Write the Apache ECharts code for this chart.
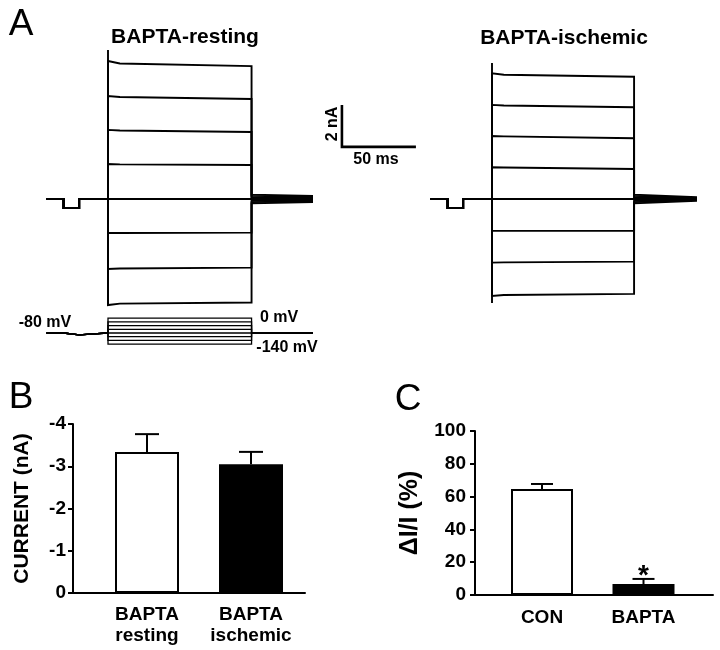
<!DOCTYPE html>
<html><head><meta charset="utf-8">
<script src="https://cdn.jsdelivr.net/npm/echarts@6/dist/echarts.min.js"></script>
<style>html,body{margin:0;padding:0;background:#fff}#c{width:720px;height:650px}</style>
</head><body><div id="c"></div>
<script>
// ================= DATA =================
// Panel A: whole-cell currents (nA) vs time (ms), step onset at t = 0
const traceStartMs = -41.5;
const traceEndMs = 138.5;
const prepulseMs = [-30, -19.5];
const prepulseNA = -0.43;
const earlyMs = 8;
const stepEndLeftMs = 97;
const stepEndRightMs = 96;

const leftStartNA = [6.57, 4.90, 3.29, 1.67, 0, -1.62, -3.33, -5.05];
const leftEarlyNA = [6.45, 4.86, 3.26, 1.65, 0, -1.62, -3.31, -4.98];
const leftEndNA   = [6.33, 4.76, 3.19, 1.62, 0, -1.60, -3.27, -4.93];
const leftTransientNA = [7.1, -5.1];
const leftTailStartNA = [0.21, 0.15, 0.09, 0.03, -0.03, -0.09, -0.15, -0.21];
const leftTailEndNA   = [0.14, 0.10, 0.06, 0.02, -0.02, -0.06, -0.10, -0.14];

const rightStartNA = [5.99, 4.48, 3.00, 1.51, 0, -1.52, -3.03, -4.62];
const rightEarlyNA = [5.92, 4.45, 2.98, 1.50, 0, -1.52, -3.02, -4.57];
const rightEndNA   = [5.82, 4.37, 2.89, 1.43, 0, -1.52, -2.98, -4.52];
const rightTransientNA = [6.48, -4.95];
const rightTailStartNA = [0.21, 0.15, 0.09, 0.03, -0.03, -0.09, -0.15, -0.21];
const rightTailEndNA   = [0.08, 0.055, 0.035, 0.01, -0.01, -0.035, -0.055, -0.08];

// voltage protocol (mV)
const holdingMV = -80;
const prepulseMV = -90;
const stepMV = [0, -20, -40, -60, -80, -100, -120, -140];

// scale bar
const scaleBarMs = 50;
const scaleBarNA = 2;
const scaleBarOrigin = [-101.4, 2.48];

// Panel B
const bCategories = ['BAPTA\nresting', 'BAPTA\nischemic'];
const bMean = [-3.34, -3.05];
const bErrTop = [-3.76, -3.34];
const bFill = ['#ffffff', '#000000'];

// Panel C
const cCategories = ['CON', 'BAPTA'];
const cMean = [64.6, 6.7];
const cErrTop = [67.7, 9.8];
const cFill = ['#ffffff', '#000000'];
const cSig = ['', '*'];

// ================= LAYOUT =================
const FONT = '"Liberation Sans", Arial, Helvetica, sans-serif';
const PX_MS = 1.48, PX_NA = 21, PX_MV = 26 / 140;
const leftStepX = 108, rightStepX = 492, baseY = 199, holdY = 333;
const tMinL = -45, tMaxL = 140, tMinR = -110, tMaxR = 145;
const iMin = -6, iMax = 8, vMin = -150, vMax = 10;

const chart = echarts.init(document.getElementById('c'), null, {renderer: 'canvas'});

function hiddenAxis(idx, min, max) {
  return {gridIndex: idx, type: 'value', min: min, max: max, show: false};
}

function sweep(start, early, end, tS, tE, stepEnd) {
  return [[traceStartMs, 0], [prepulseMs[0], 0], [prepulseMs[0], prepulseNA],
          [prepulseMs[1], prepulseNA], [prepulseMs[1], 0], [0, 0], [0, start],
          [earlyMs, early], [stepEnd, end], [stepEnd, tS], [traceEndMs, tE]];
}
function protocol(v) {
  return [[traceStartMs, holdingMV], [prepulseMs[0], holdingMV], [prepulseMs[0], prepulseMV],
          [prepulseMs[1], prepulseMV], [prepulseMs[1], holdingMV], [0, holdingMV], [0, v],
          [stepEndLeftMs, v], [stepEndLeftMs, holdingMV], [traceEndMs, holdingMV]];
}
function lineSeries(data, xi, lw) {
  return {type: 'line', xAxisIndex: xi, yAxisIndex: xi, data: data, symbol: 'none',
          silent: true, lineStyle: {color: '#000', width: lw, cap: 'butt', join: 'miter'}, z: 3};
}

const series = [];
for (let i = 0; i < leftStartNA.length; i++) {
  series.push(lineSeries(sweep(leftStartNA[i], leftEarlyNA[i], leftEndNA[i], leftTailStartNA[i], leftTailEndNA[i], stepEndLeftMs), 0, 1.9));
}
series.push(lineSeries([[0, leftTransientNA[1]], [0, leftTransientNA[0]]], 0, 1.9));
for (let i = 0; i < rightStartNA.length; i++) {
  series.push(lineSeries(sweep(rightStartNA[i], rightEarlyNA[i], rightEndNA[i], rightTailStartNA[i], rightTailEndNA[i], stepEndRightMs), 1, 1.9));
}
series.push(lineSeries([[0, rightTransientNA[1]], [0, rightTransientNA[0]]], 1, 1.9));
series.push(lineSeries([[scaleBarOrigin[0], scaleBarOrigin[1] + scaleBarNA], scaleBarOrigin,
                        [scaleBarOrigin[0] + scaleBarMs, scaleBarOrigin[1]]], 1, 2.6));
for (let i = 0; i < stepMV.length; i++) {
  series.push(lineSeries(protocol(stepMV[i]), 2, 1.3));
}

function errRender(capW, sig) {
  return function (params, api) {
    const x = api.value(0), m = api.value(1), t = api.value(2);
    const p0 = api.coord([x, m]), p1 = api.coord([x, t]);
    const children = [
      {type: 'line', shape: {x1: p0[0], y1: p0[1], x2: p1[0], y2: p1[1]}, style: {stroke: '#000', lineWidth: 2}},
      {type: 'line', shape: {x1: p1[0] - capW / 2, y1: p1[1], x2: p1[0] + capW / 2, y2: p1[1]}, style: {stroke: '#000', lineWidth: 2}}
    ];
    if (sig && sig[params.dataIndex]) {
      children.push({type: 'text', style: {text: sig[params.dataIndex], x: p1[0], y: p1[1] - 3,
        align: 'center', verticalAlign: 'middle', textAlign: 'center', textVerticalAlign: 'middle',
        font: 'bold 28px ' + FONT, fill: '#000'}});
    }
    return {type: 'group', children: children};
  };
}

series.push({type: 'bar', xAxisIndex: 3, yAxisIndex: 3, barWidth: 64, silent: true, z: 2,
  data: bMean.map((v, i) => ({value: [i + 1, v], itemStyle: {color: bFill[i]}})),
  itemStyle: {borderColor: '#000', borderWidth: 2}});
series.push({type: 'custom', xAxisIndex: 3, yAxisIndex: 3, z: 4, silent: true,
  data: bMean.map((v, i) => [i + 1, v, bErrTop[i]]), renderItem: errRender(24)});
series.push({type: 'bar', xAxisIndex: 4, yAxisIndex: 4, barWidth: 62, silent: true, z: 2,
  data: cMean.map((v, i) => ({value: [i + 1, v], itemStyle: {color: cFill[i]}})),
  itemStyle: {borderColor: '#000', borderWidth: 2}});
series.push({type: 'custom', xAxisIndex: 4, yAxisIndex: 4, z: 4, silent: true,
  data: cMean.map((v, i) => [i + 1, v, cErrTop[i]]), renderItem: errRender(22, cSig)});

const axisTxt = {color: '#000', fontFamily: FONT, fontWeight: 'bold', fontSize: 19};
function catXAxis(idx, min, max, cats, margin) {
  return {gridIndex: idx, type: 'value', min: min, max: max,
    axisLine: {onZero: false, lineStyle: {color: '#000', width: 2}},
    axisTick: {show: false}, splitLine: {show: false},
    axisLabel: Object.assign({customValues: cats.map((c, i) => i + 1), margin: margin, lineHeight: 21,
      formatter: v => cats[Math.round(v) - 1] || ''}, axisTxt)};
}
function valYAxis(idx, min, max, interval, inverse, name, nameGap, nameSize, margin) {
  return {gridIndex: idx, type: 'value', min: min, max: max, interval: interval, inverse: inverse,
    axisLine: {show: true, onZero: false, lineStyle: {color: '#000', width: 2}},
    axisTick: {show: true, length: 5, lineStyle: {color: '#000', width: 2}},
    splitLine: {show: false},
    axisLabel: Object.assign({margin: margin}, axisTxt),
    name: name, nameLocation: 'middle', nameGap: nameGap, nameRotate: 90,
    nameTextStyle: {color: '#000', fontFamily: FONT, fontWeight: 'bold', fontSize: nameSize}};
}

const option = {
  animation: false,
  backgroundColor: '#fff',
  grid: [
    {left: leftStepX + tMinL * PX_MS, width: (tMaxL - tMinL) * PX_MS, top: baseY - iMax * PX_NA, height: (iMax - iMin) * PX_NA, outerBoundsMode: 'none'},
    {left: rightStepX + tMinR * PX_MS, width: (tMaxR - tMinR) * PX_MS, top: baseY - iMax * PX_NA, height: (iMax - iMin) * PX_NA, outerBoundsMode: 'none'},
    {left: leftStepX + tMinL * PX_MS, width: (tMaxL - tMinL) * PX_MS, top: holdY - (vMax - holdingMV) * PX_MV, height: (vMax - vMin) * PX_MV, outerBoundsMode: 'none'},
    {left: 73, top: 424, width: 232, height: 169, outerBoundsMode: 'none'},
    {left: 475, top: 431, width: 238, height: 164, outerBoundsMode: 'none'}
  ],
  xAxis: [
    hiddenAxis(0, tMinL, tMaxL), hiddenAxis(1, tMinR, tMaxR), hiddenAxis(2, tMinL, tMaxL),
    catXAxis(3, 1 - 74 / 104, 2 + 54 / 104, bCategories, 11),
    catXAxis(4, 1 - 67 / 101.5, 2 + 69.5 / 101.5, cCategories, 12)
  ],
  yAxis: [
    hiddenAxis(0, iMin, iMax), hiddenAxis(1, iMin, iMax), hiddenAxis(2, vMin, vMax),
    valYAxis(3, -4, 0, 1, true, 'CURRENT (nA)', 40, 21, 7),
    valYAxis(4, 0, 100, 20, false, '\u0394I/I (%)', 52, 25, 9)
  ],
  graphic: [
    txt('A', 21, 25, 37, 'normal'),
    txt('B', 21, 398, 37, 'normal'),
    txt('C', 408, 400, 37, 'normal'),
    txt('BAPTA-resting', 185, 37, 21, 'bold'),
    txt('BAPTA-ischemic', 564, 38, 21, 'bold'),
    txt('50 ms', 376, 160, 16, 'bold'),
    txt('2 nA', 333, 124, 16, 'bold', Math.PI / 2),
    txt('-80 mV', 45, 323, 16, 'bold'),
    txt('0 mV', 279, 318, 16, 'bold'),
    txt('-140 mV', 287, 348, 16, 'bold')
  ],
  series: series
};
function txt(t, x, y, size, weight, rot) {
  return {type: 'text', x: x, y: y, rotation: rot || 0, silent: true,
    style: {text: t, fill: '#000', font: weight + ' ' + size + 'px ' + FONT,
      align: 'center', verticalAlign: 'middle', textAlign: 'center', textVerticalAlign: 'middle'}};
}
chart.setOption(option);
</script>
</body></html>
